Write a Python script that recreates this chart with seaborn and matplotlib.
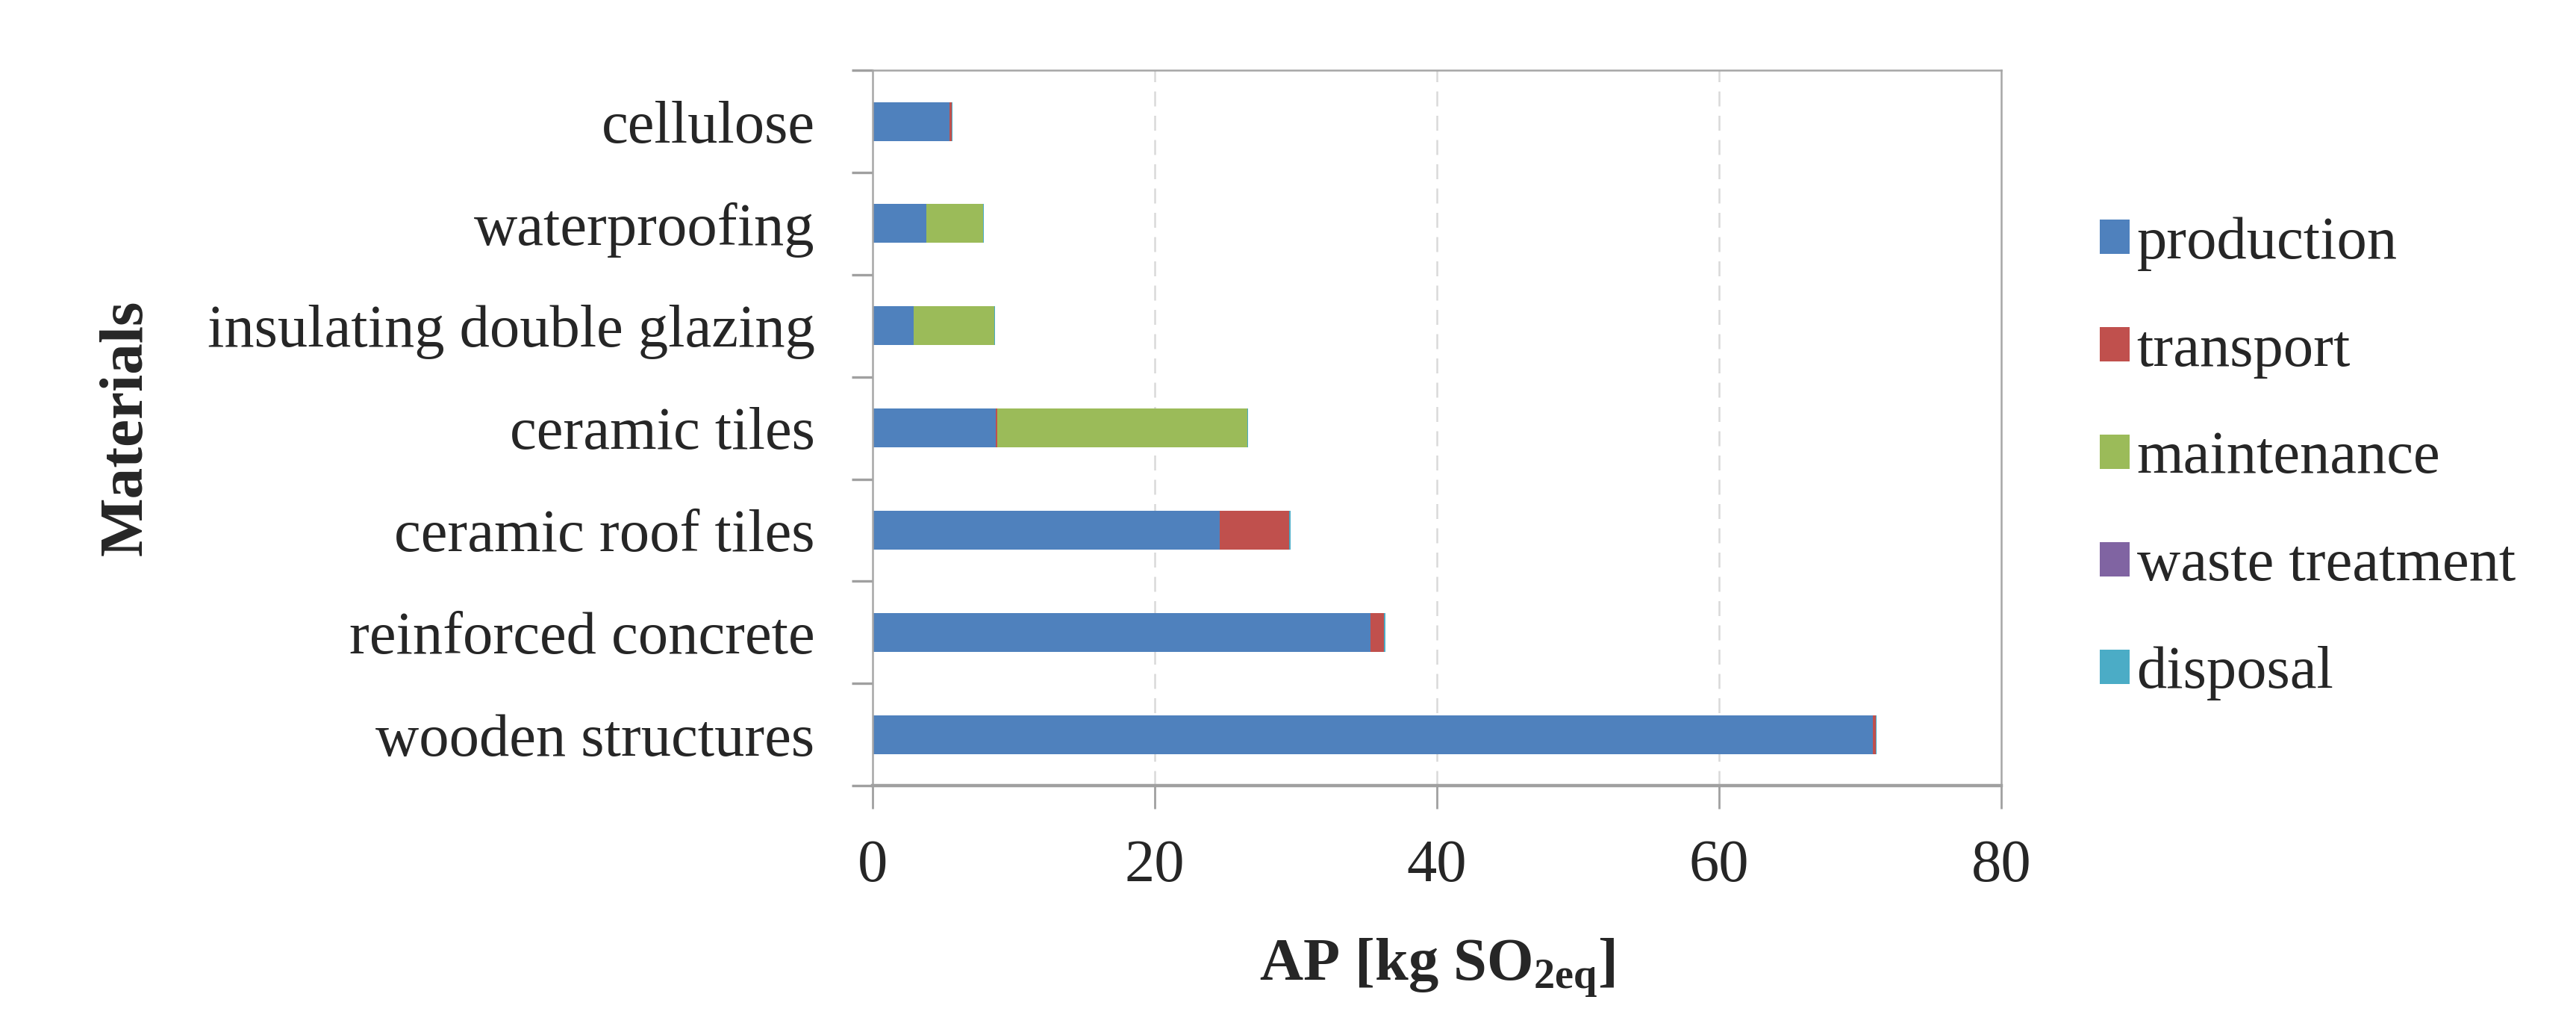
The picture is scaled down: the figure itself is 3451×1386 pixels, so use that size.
import numpy as np
import pandas as pd
import matplotlib
matplotlib.use("Agg")
import matplotlib.pyplot as plt
from matplotlib.patches import Patch
import seaborn as sns

materials = ["cellulose", "waterproofing", "insulating double glazing",
             "ceramic tiles", "ceramic roof tiles", "reinforced concrete",
             "wooden structures"]
production = [5.45, 3.8, 2.9, 8.7, 24.6, 35.3, 70.9]
transport = [0.15, 0.0, 0.0, 0.15, 4.9, 0.95, 0.2]
maintenance = [0.0, 4.0, 5.7, 17.7, 0.0, 0.0, 0.0]
waste_treatment = [0.0, 0.0, 0.0, 0.0, 0.0, 0.0, 0.0]
disposal = [0.05, 0.1, 0.05, 0.05, 0.1, 0.1, 0.05]
phases = ["production", "transport", "maintenance", "waste treatment", "disposal"]
colors = ["#4F81BD", "#C0504D", "#9BBB59", "#8064A2", "#4BACC6"]
xticks = [0, 20, 40, 60, 80]

sns.set_theme(style="white")
plt.rcParams['font.family'] = ['Liberation Serif', 'DejaVu Serif']
plt.rcParams['mathtext.fontset'] = 'custom'
plt.rcParams['mathtext.rm'] = 'Liberation Serif'
plt.rcParams['mathtext.bf'] = 'Liberation Serif:bold'
plt.rcParams['mathtext.it'] = 'Liberation Serif:italic'

series = [production, transport, maintenance, waste_treatment, disposal]
cum = np.cumsum(np.array(series), axis=0)

fig = plt.figure(figsize=(17.255, 6.93), dpi=200)
ax = fig.add_axes([0.3388, 0.241, 0.7769 - 0.3388, 0.932 - 0.241])

# draw cumulative totals from last phase to first so they stack visually
for i in range(len(phases) - 1, -1, -1):
    df = pd.DataFrame({"material": materials, "value": cum[i]})
    sns.barplot(data=df, x="value", y="material", order=materials,
                color=colors[i], width=0.38, ax=ax, saturation=1,
                linewidth=0, errorbar=None)

ax.set_xlim(0, 80)
ax.set_ylim(len(materials) - 0.5, -0.5)
ax.set_xticks(xticks)
ax.set_xticklabels([str(t) for t in xticks], fontsize=29)
ax.tick_params(axis='x', length=11, width=1, color='#a0a0a0', pad=15, direction='out', bottom=True)
ax.tick_params(axis='y', which='major', length=0, pad=28, labelsize=29)
ax.set_yticks(np.arange(len(materials) + 1) - 0.5, minor=True)
ax.tick_params(axis='y', which='minor', length=10, width=1.2, color='#a0a0a0', direction='out', left=True)

for x in xticks[1:-1]:
    ax.axvline(x, color='#d9d9d9', lw=0.9, ls=(0, (8, 5)), zorder=0)

for s in ['top', 'right', 'left']:
    ax.spines[s].set_color('#a6a6a6')
    ax.spines[s].set_linewidth(0.9)
ax.spines['bottom'].set_color('#a0a0a0')
ax.spines['bottom'].set_linewidth(1.6)

ax.set_ylabel("Materials", fontsize=30, fontweight='bold')
ax.yaxis.set_label_coords(-0.636, 0.5)
ax.set_xlabel(r"AP [kg SO$_{\mathbf{2eq}}$]", fontsize=29, fontweight='bold')
ax.xaxis.set_label_coords(0.5, -0.255)
ax.xaxis.label.set_va('center')

handles = [Patch(facecolor=c, edgecolor='none') for c in colors]
fig.legend(handles, phases, loc='center left', bbox_to_anchor=(0.794, 0.557),
           frameon=False, fontsize=29, handlelength=0.5, handleheight=0.5,
           handletextpad=0.12, labelspacing=0.88)

fig.savefig("out.png", dpi=200)
